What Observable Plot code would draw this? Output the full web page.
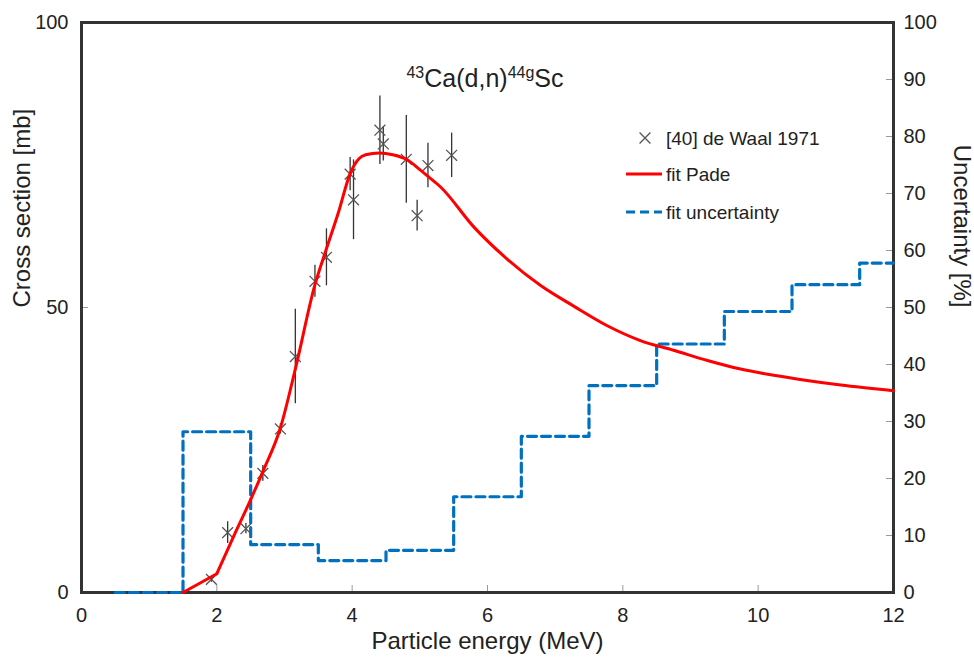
<!DOCTYPE html>
<html>
<head>
<meta charset="utf-8">
<script src="https://cdn.jsdelivr.net/npm/d3@7"></script>
<script src="https://cdn.jsdelivr.net/npm/@observablehq/plot@0.6"></script>
<style>
  body { margin: 0; background: #fff; }
</style>
</head>
<body>
<div id="chart"></div>
<script>
// ---- Data ----
// Experimental points: [40] de Waal 1971
const expE   = [1.92, 2.16, 2.43, 2.68, 2.94, 3.16, 3.45, 3.62, 3.97, 4.02, 4.41, 4.46, 4.80, 4.96, 5.12, 5.47];
const expXS  = [2.3, 10.5, 11.2, 20.9, 28.7, 41.4, 54.6, 58.8, 73.4, 68.9, 81.1, 78.7, 76.0, 66.1, 74.9, 76.7];
const expErr = [0.5, 1.9, 0.9, 1.4, 0.9, 8.3, 2.8, 5.0, 2.9, 7.0, 6.0, 3.0, 7.7, 2.7, 3.9, 3.9];

// Pade fit curve (cross section, mb)
const padeE  = [1.5, 2.0, 2.25, 2.5, 2.68, 2.94, 3.16, 3.45, 3.62, 3.8, 3.97, 4.1, 4.2, 4.4, 4.6, 4.8, 5.0, 5.12, 5.31, 5.8, 6.29, 6.78, 7.28, 7.77, 8.26, 8.75, 9.25, 9.74, 10.23, 10.72, 11.22, 12];
const padeXS = [0, 3.3, 9.9, 16.3, 21.2, 28.9, 39.2, 54, 60.3, 66.8, 73.5, 76.1, 76.8, 77.1, 76.8, 76.0, 74.2, 73.0, 71.1, 64.1, 58.5, 53.9, 50.2, 46.8, 44.2, 42.5, 40.7, 39.2, 38.1, 37.2, 36.4, 35.4];
const padeKinkE = 2.0; // threshold section is straight up to this energy

// Fit uncertainty (%), step function (value holds from E to next E)
const uncE   = [0.5, 1.5, 2.5, 3.5, 4.5, 5.5, 6.5, 7.5, 8.5, 9.5, 10.5, 11.5, 12];
const uncPct = [0, 28.2, 8.4, 5.6, 7.4, 16.8, 27.4, 36.3, 43.6, 49.3, 54.0, 57.8, 57.8];

// Ticks and labels
const xTicks       = [0, 2, 4, 6, 8, 10, 12];
const xInnerTicks  = [2, 4, 6, 8, 10];
const yLeftTicks   = [0, 50, 100];
const yLeftInner   = [50];
const yRightTicks  = [0, 10, 20, 30, 40, 50, 60, 70, 80, 90, 100];
const yRightInner  = [10, 20, 30, 40, 50, 60, 70, 80, 90];
const xTitle       = "Particle energy (MeV)";
const yLeftTitle   = "Cross section [mb]";
const yRightTitle  = "Uncertainty [%]";
const titleParts   = [["43", true], ["Ca(d,n)", false], ["44g", true], ["Sc", false]];
const legendLabels = ["[40] de Waal 1971", "fit Pade", "fit uncertainty"];

// ---- Layout ----
const W = 974, H = 664, mL = 81, mR = 81, mT = 22, mB = 72;
const innerW = W - mL - mR, innerH = H - mT - mB;
const font = "'Liberation Sans', Arial, Helvetica, sans-serif";
const textColor = "#222";
const red = "#ff0000", blue = "#0070c0";

const exp  = expE.map((e, i) => ({e, xs: expXS[i], err: expErr[i]}));
const pade = padeE.map((e, i) => ({e, v: padeXS[i]}));
const unc  = uncE.map((e, i) => ({e, v: uncPct[i]}));

const plot = Plot.plot({
  width: W, height: H,
  marginLeft: mL, marginRight: mR, marginTop: mT, marginBottom: mB,
  style: {fontFamily: font, background: "white", color: textColor, overflow: "visible"},
  x: {domain: [0, 12]},
  y: {domain: [0, 100]},
  marks: [
    Plot.tickX(xInnerTicks, {x: d => d, stroke: "#999", strokeWidth: 1, insetTop: innerH - 7}),
    Plot.tickY(yRightInner, {y: d => d, stroke: "#999", strokeWidth: 1, insetLeft: innerW - 7}),
    Plot.tickY(yLeftInner, {y: d => d, stroke: "#999", strokeWidth: 1, insetRight: innerW - 7}),
    Plot.frame({stroke: "#333", strokeWidth: 3}),
    Plot.axisX({ticks: xTicks, tickSize: 0, tickPadding: 15, fontSize: 20, label: null}),
    Plot.axisY({anchor: "left", ticks: yLeftTicks, tickSize: 0, tickPadding: 13, fontSize: 20, label: null}),
    Plot.axisY({anchor: "right", ticks: yRightTicks, tickSize: 0, tickPadding: 10, fontSize: 20, label: null}),
    Plot.text([xTitle], {text: d => d, frameAnchor: "bottom", dy: 56, fontSize: 24, fill: textColor}),
    Plot.text([yLeftTitle], {text: d => d, frameAnchor: "left", dx: -59, rotate: -90, fontSize: 24, fill: textColor}),
    Plot.text([yRightTitle], {text: d => d, frameAnchor: "right", dx: 68, rotate: 90, fontSize: 24, fill: textColor}),
    Plot.line(unc, {x: "e", y: "v", curve: "step-after", stroke: blue, strokeWidth: 3.2, strokeDasharray: "9,5"}),
    Plot.ruleX(exp, {x: "e", y1: d => d.xs - d.err, y2: d => d.xs + d.err, stroke: "#333", strokeWidth: 1.3}),
    Plot.dot(exp, {x: "e", y: "xs", symbol: "times", r: 5, stroke: "#555", strokeWidth: 1.3}),
    Plot.line(pade.filter(d => d.e <= padeKinkE), {x: "e", y: "v", curve: "linear", stroke: red, strokeWidth: 3, strokeLinejoin: "round"}),
    Plot.line(pade.filter(d => d.e >= padeKinkE), {x: "e", y: "v", curve: "monotone-x", stroke: red, strokeWidth: 3})
  ]
});

document.getElementById("chart").appendChild(plot);
const svgEl = plot.tagName.toLowerCase() === "svg" ? plot : plot.querySelector("svg");
const svg = d3.select(svgEl);

// Title with superscripts
const title = svg.append("text")
  .attr("x", 485).attr("y", 87)
  .attr("text-anchor", "middle")
  .attr("fill", textColor)
  .style("font-family", font)
  .style("font-size", "25px");
let raised = false;
titleParts.forEach(([t, sup]) => {
  const ts = title.append("tspan").text(t);
  if (sup) { ts.style("font-size", "16px"); if (!raised) { ts.attr("dy", -9); raised = true; } }
  else { ts.style("font-size", "25px"); if (raised) { ts.attr("dy", 9); raised = false; } }
});

// Legend
const lg = svg.append("g")
  .style("font-family", font).style("font-size", "19px")
  .attr("fill", textColor).attr("text-anchor", "start");
const rows = [138, 174, 212];
lg.append("path")
  .attr("transform", `translate(645,${rows[0]})`)
  .attr("d", d3.symbol(d3.symbolTimes, Math.PI * 25)())
  .attr("stroke", "#555").attr("stroke-width", 1.3).attr("fill", "none");
lg.append("line").attr("x1", 626).attr("x2", 662).attr("y1", rows[1]).attr("y2", rows[1])
  .attr("stroke", red).attr("stroke-width", 3);
lg.append("line").attr("x1", 626).attr("x2", 662).attr("y1", rows[2]).attr("y2", rows[2])
  .attr("stroke", blue).attr("stroke-width", 3.2).attr("stroke-dasharray", "9,5");
legendLabels.forEach((l, i) => {
  lg.append("text").attr("x", 666).attr("y", rows[i]).attr("dy", "0.35em")
    .attr("text-anchor", "start").text(l);
});
</script>
</body>
</html>
